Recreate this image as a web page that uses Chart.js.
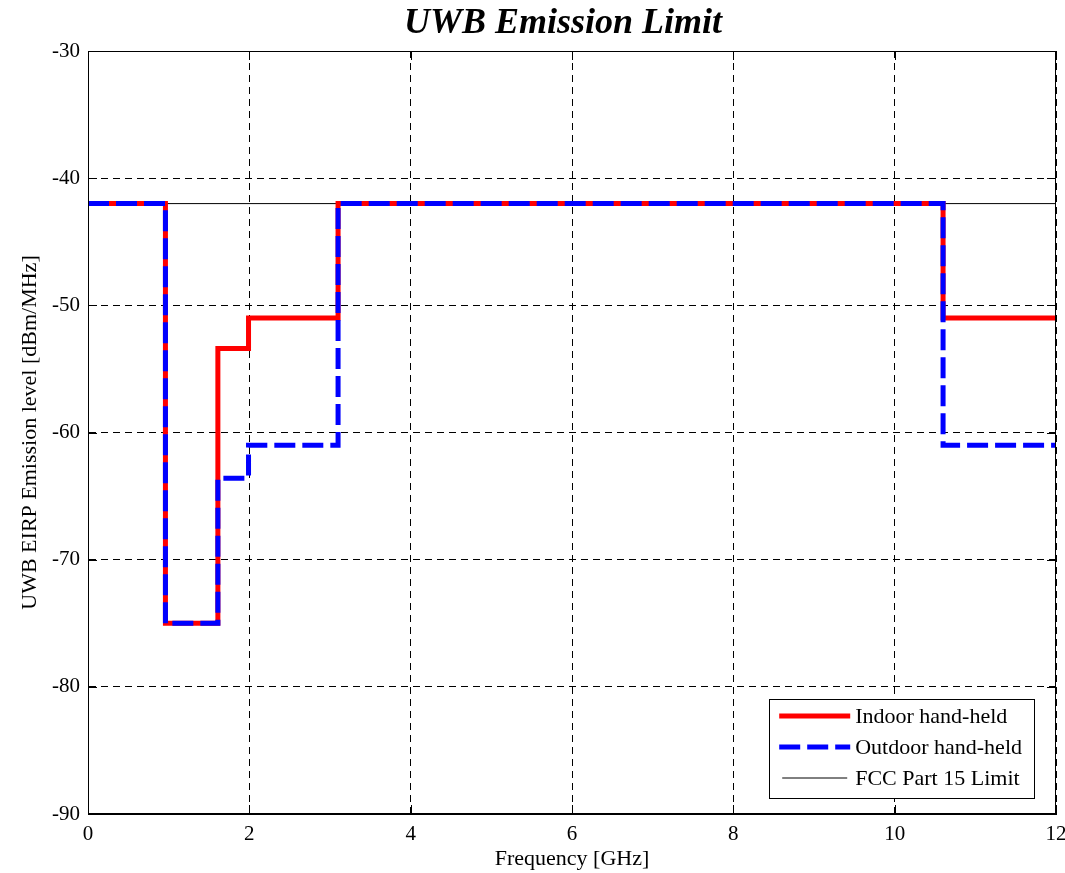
<!DOCTYPE html>
<html>
<head>
<meta charset="utf-8">
<title>UWB Emission Limit</title>
<script src="https://cdn.jsdelivr.net/npm/chart.js@4.4.1/dist/chart.umd.min.js"></script>
<style>
  body { margin: 0; background: #fff; }
  #wrap { width: 1065px; height: 873px; }
</style>
</head>
<body>
<div id="wrap"><canvas id="uwbChart" width="1065" height="873"></canvas></div>
<script>
/* ==================== Data ==================== */
// band edges in GHz, level holds from each edge to the next
const freqEdges = [0, 0.96, 1.61, 1.99, 3.1, 10.6, 12];
const indoorLevels = [-42, -75, -53.4, -51, -42, -51, -51];
const outdoorLevels = [-42, -75, -63.6, -61, -42, -61, -61];
const fccFreqs = [0, 12];
const fccLevels = [-42, -42];

const xTicks = [0, 2, 4, 6, 8, 10, 12];
const yTicks = [-90, -80, -70, -60, -50, -40, -30];

const chartTitle = 'UWB Emission Limit';
const FONT = 'Liberation Serif, Times New Roman, serif';

function toPoints(xs, ys) {
    return xs.map((x, i) => ({ x: x, y: ys[i] }));
}

/* ==================== Frame, inner ticks, title, legend ==================== */
const matlabLook = {
    id: 'matlabLook',
    afterDatasetsDraw(chart) {
        const { ctx, chartArea: a, scales } = chart;
        ctx.save();
        ctx.strokeStyle = '#000';
        ctx.lineWidth = 1;
        ctx.setLineDash([]);
        ctx.strokeRect(Math.round(a.left) + 0.5, Math.round(a.top) + 0.5,
            Math.round(a.right - a.left) - 1, Math.round(a.bottom - a.top) - 1);

        // small ticks pointing into the axes
        const len = 9;
        ctx.beginPath();
        xTicks.forEach(v => {
            const px = Math.round(scales.x.getPixelForValue(v)) + 0.5;
            ctx.moveTo(px, a.bottom); ctx.lineTo(px, a.bottom - len);
            ctx.moveTo(px, a.top); ctx.lineTo(px, a.top + len);
        });
        yTicks.forEach(v => {
            const py = Math.round(scales.y.getPixelForValue(v)) + 0.5;
            ctx.moveTo(a.left, py); ctx.lineTo(a.left + len, py);
            ctx.moveTo(a.right, py); ctx.lineTo(a.right - len, py);
        });
        ctx.stroke();
        ctx.restore();
    },
    afterDraw(chart) {
        const { ctx, chartArea: a } = chart;
        const sets = chart.data.datasets;
        ctx.save();

        // title, centred over the axes like MATLAB does
        ctx.font = 'italic bold 36px ' + FONT;
        ctx.fillStyle = '#000';
        ctx.textAlign = 'center';
        ctx.textBaseline = 'alphabetic';
        ctx.fillText(chartTitle, (a.left + a.right) / 2 - 9, 33);

        ctx.font = '22px ' + FONT;
        const textW = Math.max(...sets.map(d => ctx.measureText(d.label).width));
        const sample = 71;
        const rowH = 31;
        const boxW = 10 + sample + 5 + textW + 12;
        const boxH = rowH * sets.length + 6;
        const right = a.right - 22;
        const bottom = a.bottom - 16;
        const left = right - boxW;
        const top = bottom - boxH;

        ctx.fillStyle = '#fff';
        ctx.fillRect(left, top, boxW, boxH);
        ctx.strokeStyle = '#000';
        ctx.lineWidth = 1;
        ctx.strokeRect(Math.round(left) + 0.5, Math.round(top) + 0.5, Math.round(boxW), Math.round(boxH));

        sets.forEach((d, i) => {
            const y = top + 17 + i * rowH;
            ctx.beginPath();
            ctx.strokeStyle = d.borderColor;
            ctx.lineWidth = d.borderWidth;
            ctx.lineCap = 'butt';
            ctx.setLineDash(d.borderDash || []);
            const x0 = d.borderWidth > 2 ? left + 10 : left + 13;
            const x1 = d.borderWidth > 2 ? left + 10 + sample : left + 7 + sample;
            ctx.moveTo(x0, y);
            ctx.lineTo(x1, y);
            ctx.stroke();
            ctx.setLineDash([]);
            ctx.fillStyle = '#000';
            ctx.textBaseline = 'middle';
            ctx.textAlign = 'left';
            ctx.fillText(d.label, left + 10 + sample + 5, y + 1);
        });
        ctx.restore();
    }
};

/* ==================== Chart ==================== */
const gridStyle = {
    color: '#000',
    lineWidth: 1,
    drawTicks: false
};
// in Chart.js v4 the grid dash is taken from border.dash
const borderStyle = { display: true, color: '#000', dash: [7, 5] };

new Chart(document.getElementById('uwbChart'), {
    type: 'line',
    data: {
        datasets: [
            {
                label: 'Indoor hand-held',
                data: toPoints(freqEdges, indoorLevels),
                borderColor: '#ff0000',
                borderWidth: 5,
                stepped: 'before',
                pointRadius: 0,
                borderJoinStyle: 'miter',
                borderCapStyle: 'butt',
                fill: false,
                order: 1
            },
            {
                label: 'Outdoor hand-held',
                data: toPoints(freqEdges, outdoorLevels),
                borderColor: '#0000ff',
                borderWidth: 5,
                borderDash: [21, 7],
                stepped: 'before',
                pointRadius: 0,
                borderJoinStyle: 'miter',
                borderCapStyle: 'butt',
                fill: false,
                order: 0
            },
            {
                label: 'FCC Part 15 Limit',
                data: toPoints(fccFreqs, fccLevels),
                borderColor: '#000000',
                borderWidth: 1,
                pointRadius: 0,
                fill: false,
                order: 2
            }
        ]
    },
    options: {
        responsive: false,
        animation: false,
        devicePixelRatio: 1,
        layout: { padding: { left: 0, right: 9, top: 51, bottom: 0 } },
        plugins: {
            legend: { display: false },
            tooltip: { enabled: false },
            title: { display: false }
        },
        scales: {
            x: {
                type: 'linear',
                min: 0,
                max: 12,
                afterFit(scale) {
                    scale.height = 59;
                    scale.paddingLeft = 0;
                    scale.paddingRight = 0;
                },
                afterBuildTicks(scale) { scale.ticks = xTicks.map(v => ({ value: v })); },
                border: borderStyle,
                grid: gridStyle,
                ticks: { color: '#000', font: { family: FONT, size: 21 }, padding: 8, maxRotation: 0 },
                title: {
                    display: true,
                    text: 'Frequency [GHz]',
                    color: '#000',
                    font: { family: FONT, size: 22 },
                    padding: { top: 0, bottom: 1 }
                }
            },
            y: {
                type: 'linear',
                min: -90,
                max: -30,
                afterFit(scale) {
                    scale.width = 88;
                    scale.paddingTop = 0;
                    scale.paddingBottom = 0;
                },
                afterBuildTicks(scale) { scale.ticks = yTicks.map(v => ({ value: v })); },
                border: borderStyle,
                grid: gridStyle,
                ticks: { color: '#000', font: { family: FONT, size: 21 }, padding: 8 },
                title: {
                    display: true,
                    text: 'UWB EIRP Emission level [dBm/MHz]',
                    color: '#000',
                    font: { family: FONT, size: 22 },
                    padding: { top: 17, bottom: 0 }
                }
            }
        }
    },
    plugins: [matlabLook]
});
</script>
</body>
</html>
